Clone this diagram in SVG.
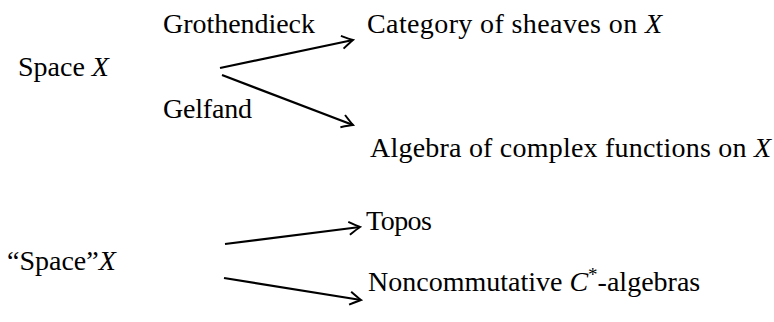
<svg xmlns="http://www.w3.org/2000/svg" width="774" height="322" viewBox="0 0 774 322">
<style>
.t{font-family:'Liberation Serif','DejaVu Serif',serif;font-size:28px;fill:#000}
.i{font-style:italic}
.c{fill:none;stroke:#000;stroke-width:2.2}
</style>
<defs>
<marker id="a" viewBox="-12 -8 14 16" markerWidth="14" markerHeight="16" refX="0" refY="0" orient="auto" markerUnits="userSpaceOnUse">
<path d="M-11,-6.5 Q-3,-1.5 0,0 Q-3,1.5 -11,6.5" fill="none" stroke="#000" stroke-width="2"/>
</marker>
</defs>
<rect width="774" height="322" fill="#fff"/>
<g class="t" font-family="Liberation Serif, serif">
<g id="space"><text x="18" y="76">Space <tspan class="i">X</tspan></text></g>
<g id="grothendieck"><text x="163" y="33" textLength="152">Grothendieck</text></g>
<g id="gelfand"><text x="163" y="118" textLength="89">Gelfand</text></g>
<g id="sheaves"><text x="367" y="33" textLength="295">Category of sheaves on <tspan class="i">X</tspan></text></g>
<g id="algebra"><text x="370" y="157" textLength="401">Algebra of complex functions on <tspan class="i">X</tspan></text></g>
<g id="qspace"><text x="7" y="270">“Space”<tspan class="i">X</tspan></text></g>
<g id="topos"><text x="366" y="230" textLength="66">Topos</text></g>
<g id="nc"><text x="368" y="291">Noncommutative <tspan class="i">C</tspan><tspan dy="-10" font-size="19">*</tspan><tspan dy="10">-algebras</tspan></text></g>
</g>
<g id="connectors">
<path class="c" d="M220,68 L353,40" marker-end="url(#a)"/>
<path class="c" d="M222,75 L353,125" marker-end="url(#a)"/>
<path class="c" d="M225,244 L360,227" marker-end="url(#a)"/>
<path class="c" d="M224,278 L361,300" marker-end="url(#a)"/>
</g>
</svg>
